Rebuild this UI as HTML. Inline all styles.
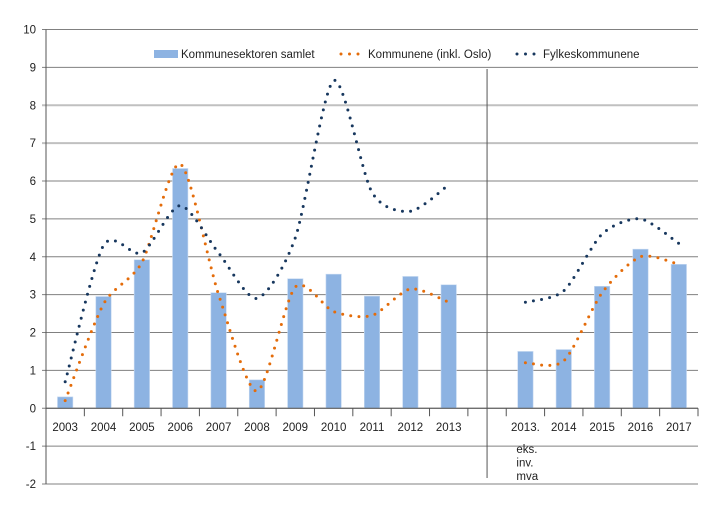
<!DOCTYPE html>
<html><head><meta charset="utf-8"><style>
body{margin:0;background:#fff}
svg{display:block;font-family:"Liberation Sans",sans-serif}
</style></head><body>
<svg id="chart" width="719" height="510" font-size="11.5" fill="#222">
<g id="grid"></g>
<g id="bars"></g>
<g id="lines"></g>
<g id="axes"></g>
<g>
 <rect x="154" y="50" width="24" height="8" fill="#8db3e2"/>
 <text x="181" y="58">Kommunesektoren samlet</text>
 <line x1="341" y1="54" x2="360" y2="54" stroke="#e46c0a" stroke-width="3" stroke-linecap="round" stroke-dasharray="0 8.5"/>
 <text x="368" y="58">Kommunene (inkl. Oslo)</text>
 <line x1="517" y1="54" x2="536" y2="54" stroke="#17375e" stroke-width="3" stroke-linecap="round" stroke-dasharray="0 8.5"/>
 <text x="543" y="58">Fylkeskommunene</text>
</g>
</svg>
<script>
const categories=["2003","2004","2005","2006","2007","2008","2009","2010","2011","2012","2013","","2013.","2014","2015","2016","2017"];
const barValues=[0.3,2.95,3.92,6.33,3.05,0.75,3.42,3.54,2.96,3.48,3.26,null,1.5,1.55,3.22,4.2,3.8];
const kommuneneValues=[0.2,2.75,3.85,6.45,3.0,0.45,3.2,2.55,2.45,3.15,2.8,null,1.2,1.25,3.05,4.0,3.8];
const fylkesValues=[0.7,4.3,4.1,5.35,4.1,2.9,4.5,8.65,5.7,5.2,5.9,null,2.8,3.1,4.6,5.0,4.35];
const yTicks=[-2,-1,0,1,2,3,4,5,6,7,8,9,10];
const NS="http://www.w3.org/2000/svg";
const X0=46,X1=698,Y10=29.5,Ym2=484;
const slot=(X1-X0)/categories.length;
const y=v=>Ym2-(v+2)*(Ym2-Y10)/12;
const xc=i=>X0+slot*(i+0.5);
function mk(tag,attrs,parent){const e=document.createElementNS(NS,tag);for(const k in attrs)e.setAttribute(k,attrs[k]);parent.appendChild(e);return e;}
const grid=document.getElementById('grid'),bars=document.getElementById('bars'),lines=document.getElementById('lines'),axes=document.getElementById('axes');
yTicks.forEach(t=>{
 const light=(t>=6&&t<=8);
 const l=mk('line',{x1:42,x2:X1,y1:y(t),y2:y(t),stroke:light?'#c0c0c0':'#808080','stroke-width':light?2:1},grid);
 
 
 const tx=mk('text',{x:36,y:y(t)+4,'text-anchor':'end'},axes);
 tx.textContent=t;
 
 
});
const ax=mk('line',{x1:X0,x2:X0,y1:Y10,y2:Ym2,stroke:'#555'},axes);


const zl=mk('line',{x1:X0,x2:X1,y1:y(0),y2:y(0),stroke:'#555'},axes);


for(let i=1;i<=categories.length;i++){
 const tk=mk('line',{x1:X0+slot*i,x2:X0+slot*i,y1:y(0),y2:y(0)+8,stroke:'#555'},axes);
 
 
}
const dv=mk('line',{x1:xc(11),x2:xc(11),y1:69,y2:478,stroke:'#555'},axes);


categories.forEach((c,i)=>{
 if(!c)return;
 const t=mk('text',{x:xc(i),y:431,'text-anchor':'middle'},axes);
 t.textContent=c;
 
 
 const v=barValues[i];
 if(v!=null){
  const r=mk('rect',{x:xc(i)-7.7,width:15.4,y:Math.min(y(v),y(0)),height:Math.abs(y(0)-y(v)),fill:'#8db3e2',stroke:'#c6d9f1','stroke-width':0.6},bars);
  
  
 }
});
["eks.","inv.","mva"].forEach((s,k)=>{
 const t=mk('text',{x:xc(12)-9,y:453+k*13.5},axes);
 t.textContent=s;
 
 
});
function smooth(vals){
 const segs=[];let cur=[];
 vals.forEach((v,i)=>{if(v==null){if(cur.length)segs.push(cur);cur=[];}else cur.push([xc(i),y(v)]);});
 if(cur.length)segs.push(cur);
 return segs.map(p=>{
  let d='M'+p[0][0]+','+p[0][1];
  for(let i=0;i<p.length-1;i++){
   const p0=p[i-1]||p[i],p1=p[i],p2=p[i+1],p3=p[i+2]||p2,k=0.13;
   d+=' C'+(p1[0]+(p2[0]-p0[0])*k)+','+(p1[1]+(p2[1]-p0[1])*k)+' '+(p2[0]-(p3[0]-p1[0])*k)+','+(p2[1]-(p3[1]-p1[1])*k)+' '+p2[0]+','+p2[1];
  }
  return d;
 }).join(' ');
}
const lk=mk('path',{d:smooth(kommuneneValues),fill:'none',stroke:'#e46c0a','stroke-width':3,'stroke-linecap':'round','stroke-dasharray':'0 8.2'},lines);


const lf=mk('path',{d:smooth(fylkesValues),fill:'none',stroke:'#17375e','stroke-width':3,'stroke-linecap':'round','stroke-dasharray':'0 8.2'},lines);


</script>
</body></html>
